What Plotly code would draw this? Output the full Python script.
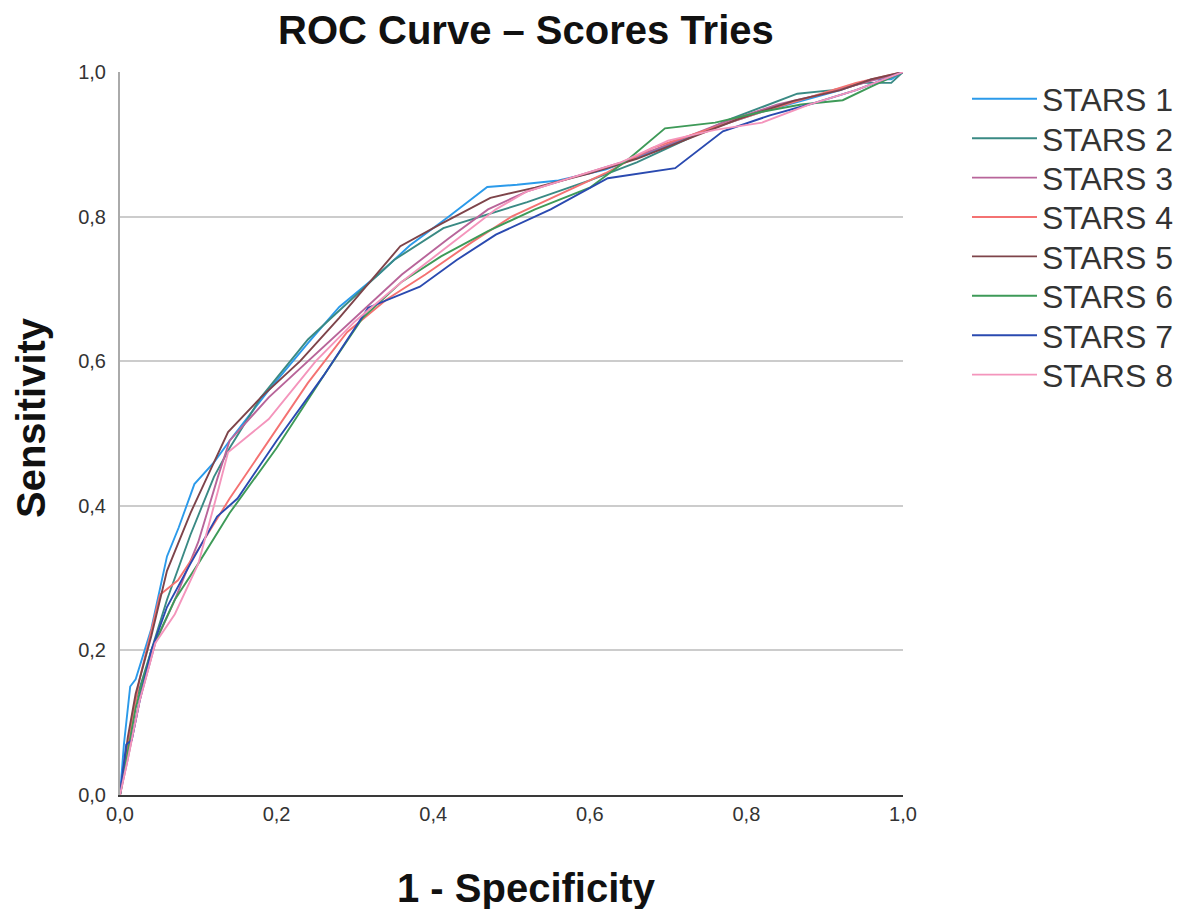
import plotly.graph_objects as go

names = ["STARS 1", "STARS 2", "STARS 3", "STARS 4", "STARS 5", "STARS 6", "STARS 7", "STARS 8"]
colors = ["#2B9AEA", "#3A8A84", "#B8659A", "#F47272", "#7E444A", "#3E9A58", "#2A4AB0", "#F495BC"]

s1_x = [0, 0.005, 0.013, 0.02, 0.04, 0.06, 0.075, 0.095, 0.12, 0.14, 0.19, 0.24, 0.28, 0.33, 0.37, 0.42, 0.469, 0.507, 0.56, 0.62, 0.68, 0.75, 0.82, 0.87, 0.92, 0.96, 0.985, 1]
s1_y = [0, 0.07, 0.15, 0.16, 0.23, 0.33, 0.37, 0.43, 0.46, 0.49, 0.56, 0.625, 0.675, 0.72, 0.76, 0.80, 0.841, 0.844, 0.85, 0.865, 0.89, 0.92, 0.945, 0.96, 0.975, 0.99, 0.99, 1]

s2_x = [0, 0.01, 0.02, 0.04, 0.06, 0.09, 0.12, 0.14, 0.18, 0.24, 0.29, 0.35, 0.413, 0.46, 0.52, 0.6, 0.66, 0.72, 0.78, 0.865, 0.91, 0.95, 0.985, 1]
s2_y = [0, 0.06, 0.13, 0.2, 0.27, 0.36, 0.44, 0.48, 0.55, 0.63, 0.68, 0.74, 0.784, 0.80, 0.82, 0.85, 0.875, 0.905, 0.935, 0.970, 0.975, 0.985, 0.985, 1]

s3_x = [0, 0.01, 0.025, 0.045, 0.07, 0.1, 0.125, 0.14, 0.19, 0.25, 0.3, 0.36, 0.42, 0.47, 0.52, 0.58, 0.64, 0.7, 0.77, 0.84, 0.9, 0.95, 1]
s3_y = [0, 0.05, 0.13, 0.21, 0.27, 0.35, 0.44, 0.49, 0.55, 0.61, 0.66, 0.72, 0.77, 0.81, 0.835, 0.855, 0.875, 0.9, 0.93, 0.955, 0.97, 0.985, 1]

s4_x = [0, 0.01, 0.025, 0.04, 0.051, 0.074, 0.1, 0.14, 0.19, 0.24, 0.29, 0.34, 0.39, 0.45, 0.5, 0.56, 0.62, 0.68, 0.75, 0.82, 0.88, 0.94, 1]
s4_y = [0, 0.07, 0.16, 0.23, 0.277, 0.297, 0.34, 0.41, 0.49, 0.57, 0.64, 0.685, 0.72, 0.765, 0.80, 0.83, 0.86, 0.895, 0.92, 0.945, 0.965, 0.985, 1]

s5_x = [0, 0.01, 0.02, 0.04, 0.06, 0.09, 0.12, 0.138, 0.18, 0.23, 0.28, 0.32, 0.358, 0.41, 0.473, 0.53, 0.6, 0.66, 0.72, 0.79, 0.86, 0.92, 0.96, 1]
s5_y = [0, 0.08, 0.14, 0.22, 0.31, 0.39, 0.46, 0.502, 0.55, 0.60, 0.66, 0.71, 0.759, 0.79, 0.826, 0.84, 0.86, 0.88, 0.905, 0.935, 0.96, 0.975, 0.99, 1]

s6_x = [0, 0.003, 0.01, 0.02, 0.04, 0.07, 0.1, 0.14, 0.2, 0.26, 0.31, 0.36, 0.41, 0.47, 0.53, 0.6, 0.65, 0.696, 0.76, 0.82, 0.87, 0.923, 0.96, 1]
s6_y = [0, 0.018, 0.06, 0.12, 0.2, 0.27, 0.32, 0.39, 0.48, 0.58, 0.66, 0.71, 0.745, 0.78, 0.81, 0.84, 0.88, 0.922, 0.93, 0.945, 0.955, 0.961, 0.98, 1]

s7_x = [0, 0.008, 0.015, 0.025, 0.04, 0.06, 0.09, 0.124, 0.15, 0.2, 0.26, 0.317, 0.383, 0.43, 0.48, 0.55, 0.623, 0.709, 0.77, 0.83, 0.88, 0.94, 1]
s7_y = [0, 0.07, 0.076, 0.13, 0.2, 0.26, 0.32, 0.385, 0.41, 0.49, 0.58, 0.674, 0.703, 0.74, 0.775, 0.81, 0.853, 0.867, 0.918, 0.94, 0.955, 0.975, 1]

s8_x = [0, 0.01, 0.025, 0.045, 0.07, 0.1, 0.125, 0.138, 0.19, 0.25, 0.3, 0.36, 0.42, 0.48, 0.52, 0.58, 0.64, 0.7, 0.76, 0.82, 0.88, 0.94, 1]
s8_y = [0, 0.05, 0.13, 0.21, 0.25, 0.32, 0.42, 0.474, 0.52, 0.60, 0.655, 0.71, 0.76, 0.81, 0.835, 0.855, 0.875, 0.905, 0.92, 0.93, 0.955, 0.975, 1]

xs = [s1_x, s2_x, s3_x, s4_x, s5_x, s6_x, s7_x, s8_x]
ys = [s1_y, s2_y, s3_y, s4_y, s5_y, s6_y, s7_y, s8_y]

tick_vals = [0, 0.2, 0.4, 0.6, 0.8, 1.0]
tick_text = ["0,0", "0,2", "0,4", "0,6", "0,8", "1,0"]

FONT = "Liberation Sans, Arial, sans-serif"

# Page has an 8px body margin; figure sized/margined to compensate.
W, H = 1186, 901
ML, MR, MT, MB = 112, 291, 64, 114
PW = W - ML - MR
PH = H - MT - MB


def px_to_paper_x(page_x):
    return (page_x - 8 - ML) / PW


def px_to_paper_y(page_y):
    return 1 - (page_y - 8 - MT) / PH


fig = go.Figure()
legend_layouts = {}
for i, (n, c, x, y) in enumerate(zip(names, colors, xs, ys)):
    key = "legend" if i == 0 else f"legend{i + 1}"
    fig.add_trace(go.Scatter(x=x, y=y, mode="lines", name=n, legend=key,
                             line=dict(color=c, width=1.9)))
    legend_layouts[key] = dict(
        x=px_to_paper_x(967), xanchor="left",
        y=px_to_paper_y(99 + 39.4 * i), yanchor="middle",
        font=dict(size=32, color="#333333", family=FONT),
        itemwidth=65, bgcolor="rgba(0,0,0,0)", borderwidth=0,
    )

fig.update_layout(
    width=W, height=H,
    margin=dict(l=ML, r=MR, t=MT, b=MB),
    paper_bgcolor="white", plot_bgcolor="white",
    font=dict(family=FONT, color="#333333"),
    showlegend=True,
    xaxis=dict(range=[0, 1], tickvals=tick_vals, ticktext=tick_text,
               showgrid=False, zeroline=False, showline=True,
               linecolor="#3A3A3A", linewidth=1.5, ticks="",
               tickfont=dict(size=20, color="#333333"), fixedrange=True),
    yaxis=dict(range=[0, 1], tickvals=tick_vals, ticktext=tick_text,
               showgrid=True, gridcolor="#CCCCCC", gridwidth=1.5,
               zeroline=False, showline=True, linecolor="#AAAAAA", linewidth=2,
               ticks="", ticklabelstandoff=8,
               tickfont=dict(size=20, color="#333333"), fixedrange=True),
    annotations=[
        dict(text="<b>ROC Curve – Scores Tries</b>", x=px_to_paper_x(526),
             y=px_to_paper_y(30), xref="paper", yref="paper",
             xanchor="center", yanchor="middle", showarrow=False,
             font=dict(size=40, color="#111111")),
        dict(text="<b>1 - Specificity</b>", x=px_to_paper_x(526),
             y=px_to_paper_y(888), xref="paper", yref="paper",
             xanchor="center", yanchor="middle", showarrow=False,
             font=dict(size=40, color="#111111")),
        dict(text="<b>Sensitivity</b>", x=px_to_paper_x(31),
             y=px_to_paper_y(418), xref="paper", yref="paper",
             xanchor="center", yanchor="middle", textangle=-90,
             showarrow=False, font=dict(size=40, color="#111111")),
    ],
)
fig.update_layout(**legend_layouts)

fig.write_html("out.html")
